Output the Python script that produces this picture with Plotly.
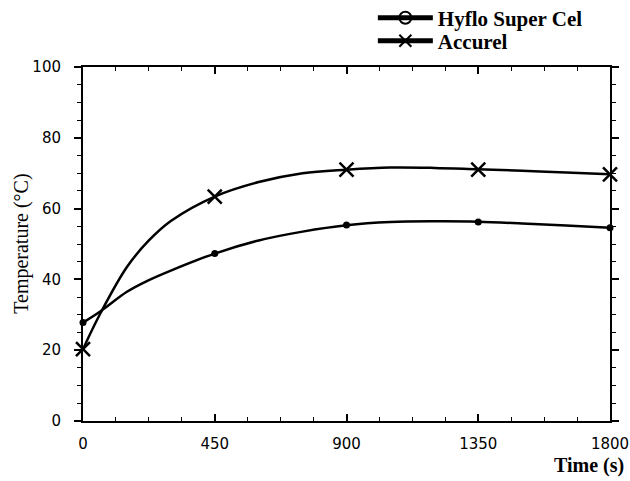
import plotly.graph_objects as go

# Marker data
marker_time = [0, 450, 900, 1350, 1800]
hyflo_marker = [27.8, 47.3, 55.4, 56.2, 54.6]
accurel_marker = [20.3, 63.4, 71.0, 71.0, 69.7]

# Curve points
curve_time = [0, 60, 150, 225, 300, 450, 600, 750, 900, 1050, 1200, 1350, 1500, 1650, 1800]
hyflo_curve = [27.8, 31.0, 36.5, 39.8, 42.5, 47.3, 51.0, 53.5, 55.3, 56.2, 56.4, 56.3, 55.8, 55.2, 54.6]
accurel_curve = [20.3, 30.5, 43.5, 51.0, 56.5, 63.4, 67.5, 70.0, 71.0, 71.6, 71.5, 71.1, 70.7, 70.2, 69.7]

x_ticks = [0, 450, 900, 1350, 1800]
y_ticks = [0, 20, 40, 60, 80, 100]

names = ["Hyflo Super Cel", "Accurel"]

fig = go.Figure()

# curves
fig.add_trace(go.Scatter(x=curve_time, y=hyflo_curve, mode="lines",
                         line=dict(color="black", width=2.5, shape="spline"),
                         showlegend=False, hoverinfo="skip"))
fig.add_trace(go.Scatter(x=curve_time, y=accurel_curve, mode="lines",
                         line=dict(color="black", width=2.5, shape="spline"),
                         showlegend=False, hoverinfo="skip"))
# markers
fig.add_trace(go.Scatter(x=marker_time, y=hyflo_marker, mode="markers",
                         marker=dict(symbol="circle", size=7, color="black"),
                         showlegend=False, cliponaxis=False))
fig.add_trace(go.Scatter(x=marker_time, y=accurel_marker, mode="markers",
                         marker=dict(symbol="x-thin-open", size=14, color="black",
                                     line=dict(color="black", width=2.5)),
                         showlegend=False, cliponaxis=False))
# legend entries (one legend per row)
fig.add_trace(go.Scatter(x=[None], y=[None], mode="lines+markers",
                         name="<b>" + names[0] + "</b>", legend="legend",
                         line=dict(color="black", width=2.5),
                         marker=dict(symbol="circle-open", size=7, color="black",
                                     line=dict(color="black", width=2))))
fig.add_trace(go.Scatter(x=[None], y=[None], mode="lines+markers",
                         name="<b>" + names[1] + "</b>", legend="legend2",
                         line=dict(color="black", width=2.5),
                         marker=dict(symbol="x-thin-open", size=12, color="black",
                                     line=dict(color="black", width=2.5))))

legend_style = dict(xanchor="left", yanchor="middle",
                    font=dict(family="Liberation Serif", size=21, color="black"),
                    itemwidth=55, bgcolor="rgba(0,0,0,0)", itemsizing="constant")

fig.update_layout(
    width=630, height=481,
    margin=dict(l=83, r=20, t=67, b=60, autoexpand=False),
    plot_bgcolor="white", paper_bgcolor="white",
    showlegend=True,
    legend=dict(x=0.55, y=1.138, **legend_style),
    legend2=dict(x=0.55, y=1.073, **legend_style),
    annotations=[
        dict(text="<b>Time (s)</b>", x=1.03, y=-0.125, xref="paper", yref="paper",
             xanchor="right", yanchor="middle", showarrow=False,
             font=dict(family="Liberation Serif", size=20, color="black")),
        dict(text="Temperature (°C)", x=-0.118, y=0.5, xref="paper", yref="paper",
             xanchor="center", yanchor="middle", textangle=-90, showarrow=False,
             font=dict(family="Liberation Serif", size=20, color="black")),
    ],
)

fig.update_xaxes(range=[0, 1800], tickvals=x_ticks, ticktext=[str(v) for v in x_ticks],
                 showgrid=False, zeroline=False, showline=True, linecolor="black",
                 linewidth=2, mirror="allticks", ticks="inside", ticklen=7,
                 tickwidth=1.5, tickcolor="black", ticklabelstandoff=8,
                 ticklabeloverflow="allow",
                 tickfont=dict(family="DejaVu Sans", size=15, color="black"),
                 minor=dict(dtick=112.5, tick0=0, ticks="inside", ticklen=4,
                            tickcolor="black", tickwidth=1, showgrid=False))
fig.update_yaxes(range=[0, 100], tickvals=y_ticks, ticktext=[str(v) for v in y_ticks],
                 showgrid=False, zeroline=False, showline=True, linecolor="black",
                 linewidth=2, mirror="allticks", ticks="outside", ticklen=7,
                 tickwidth=1.5, tickcolor="black", ticklabelstandoff=10,
                 ticklabeloverflow="allow",
                 tickfont=dict(family="DejaVu Sans", size=15, color="black"),
                 minor=dict(dtick=5, tick0=0, ticks="outside", ticklen=4,
                            tickcolor="black", tickwidth=1, showgrid=False))

fig.write_html("out.html", config={"displayModeBar": False},
               post_script="document.body.style.margin='0';document.body.style.overflow='hidden';")
